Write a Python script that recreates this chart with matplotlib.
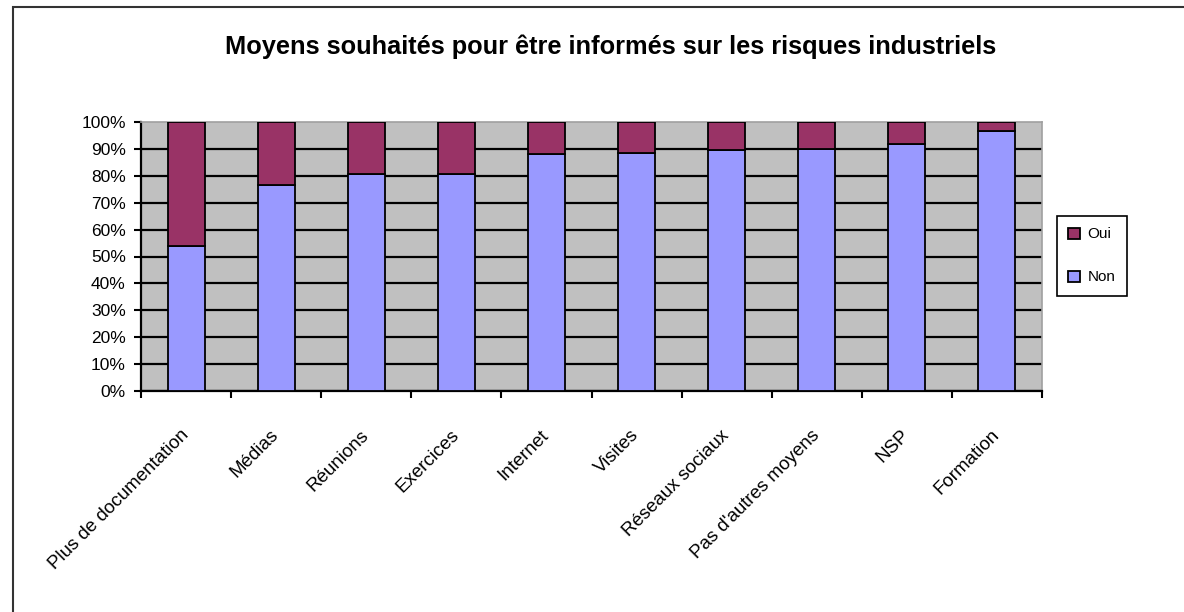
import numpy as np
import matplotlib
matplotlib.use('Agg')
import matplotlib.pyplot as plt
from matplotlib.patches import Rectangle

# categories and shares (percent stacked)
categories = ['Plus de documentation', 'Médias', 'Réunions', 'Exercices', 'Internet',
              'Visites', 'Réseaux sociaux', "Pas d'autres moyens", 'NSP', 'Formation']
non = [54, 76.5, 80.5, 80.5, 88, 88.5, 89.5, 90, 92, 96.7]
oui = [46, 23.5, 19.5, 19.5, 12, 11.5, 10.5, 10, 8, 3.3]
yticks = [0, 10, 20, 30, 40, 50, 60, 70, 80, 90, 100]

plt.rcParams['font.family'] = ['Liberation Sans', 'DejaVu Sans']

fig = plt.figure(figsize=(11.84, 6.12), dpi=100)
ax = fig.add_axes([141/1184, 1 - 391/612, (1042 - 141)/1184, (391 - 122)/612])

x = np.arange(len(categories))
total = np.array(non) + np.array(oui)
non_pct = np.array(non) / total
oui_pct = np.array(oui) / total

ax.set_facecolor('#C0C0C0')
b_non = ax.bar(x, non_pct, width=0.41, color='#9999FF', edgecolor='black', linewidth=1.3, label='Non', zorder=3)
b_oui = ax.bar(x, oui_pct, width=0.41, bottom=non_pct, color='#993366', edgecolor='black', linewidth=1.3, label='Oui', zorder=3)

ax.set_xlim(-0.5, len(categories) - 0.5)
ax.set_ylim(0, 1)
ax.set_yticks(np.array(yticks) / 100)
ax.set_yticklabels([f'{t}%' for t in yticks], fontsize=12.5)
ax.yaxis.grid(True, color='black', linewidth=1.6, zorder=0)
ax.get_ygridlines()[-1].set_visible(False)
ax.set_axisbelow(True)

ax.set_xticks(x)
ax.set_xticklabels(categories, rotation=45, ha='right', va='center', rotation_mode='anchor', fontsize=13.5)
ax.set_xticks(np.arange(len(categories) + 1) - 0.5, minor=True)
ax.tick_params(axis='x', which='major', length=0, pad=30)
ax.tick_params(axis='x', which='minor', length=5, width=1.5, direction='out')
ax.tick_params(axis='y', length=5, width=1.5, direction='out', pad=6)

for s in ['top', 'right']:
    ax.spines[s].set_color('#A0A0A0')
    ax.spines[s].set_linewidth(1.2)
for s in ['left', 'bottom']:
    ax.spines[s].set_color('black')
    ax.spines[s].set_linewidth(1.6)

fig.text(0.516, 1 - 47/612, 'Moyens souhaités pour être informés sur les risques industriels',
         ha='center', va='center', fontsize=18.3, fontweight='bold')

leg = fig.legend([b_oui, b_non], ['Oui', 'Non'], loc='upper left',
                 bbox_to_anchor=(1057/1184, 1 - 216/612), fontsize=11,
                 frameon=True, fancybox=False, edgecolor='black', framealpha=1,
                 handlelength=0.75, handleheight=0.75, labelspacing=1.9,
                 borderpad=0.75, handletextpad=0.5, borderaxespad=0)
leg.get_frame().set_linewidth(1.2)

fig.patches.append(Rectangle((13/1184, -0.1), 1.2, 1.1 - 7/612, transform=fig.transFigure,
                             fill=False, edgecolor='#333333', linewidth=1.5))

fig.savefig('out.png', dpi=100)
